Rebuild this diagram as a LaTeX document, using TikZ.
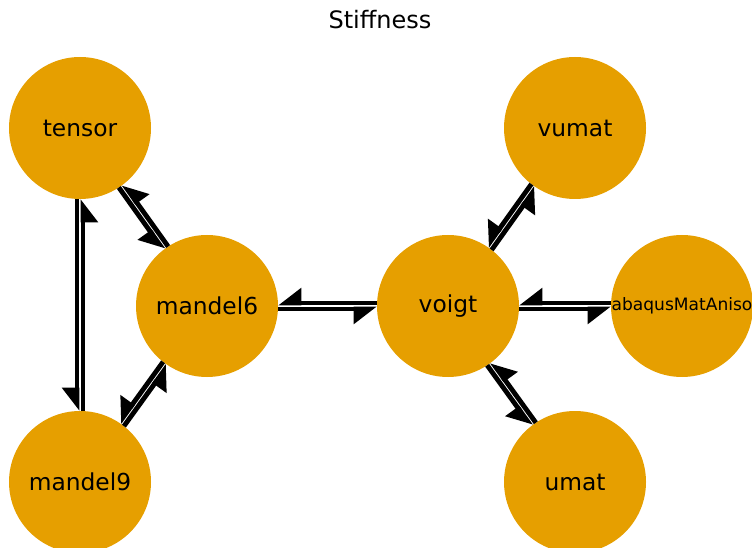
\documentclass[tikz,border=0pt]{standalone}
\usepackage{fontspec}
\setmainfont{DejaVu Sans}
\usetikzlibrary{arrows.meta, calc}

\definecolor{stiffcol}{HTML}{E69F00}

% two opposite harpoons between two nodes
\newcommand{\twoway}[2]{%
  \draw[link] ($(#1)!53.25pt!(#2)!2.2pt!-90:(#2)$) -- ($(#2)!53.25pt!(#1)!2.2pt!90:(#1)$);
  \draw[link] ($(#2)!53.25pt!(#1)!2.2pt!-90:(#1)$) -- ($(#1)!53.25pt!(#2)!2.2pt!90:(#2)$);
}

\begin{document}
\begin{tikzpicture}[x=0.75pt, y=-0.75pt]

\tikzset{
  unit/.style={circle, fill=stiffcol, minimum size=106.5pt, inner sep=0pt, font=\fontsize{17.5}{20}\selectfont},
  link/.style={line width=3.6pt, -{Triangle[harpoon, swap, length=15pt, width=22pt]}}
}

\useasboundingbox (0,0) rectangle (752,548);
\clip (0,0) rectangle (752,548);

% --- Titel ---
\node[font=\fontsize{18}{21}\selectfont] (title) at (380,20) {Stiffness};

% --- Knoten ---
\node[unit] (tensor) at (80,128) {tensor};
\node[unit] (mandel6) at (207,306) {mandel6};
\node[unit] (mandel9) at (80,482) {mandel9};
\node[unit] (voigt) at (448,306) {voigt};
\node[unit] (vumat) at (575,128) {vumat};
\node[unit, font=\fontsize{12.8}{15}\selectfont] (aniso) at (682,306) {abaqusMatAniso};
\node[unit] (umat) at (575,482) {umat};

% --- Kanten ---
\twoway{tensor}{mandel9}
\twoway{tensor}{mandel6}
\twoway{mandel6}{mandel9}
\twoway{mandel6}{voigt}
\twoway{voigt}{vumat}
\twoway{voigt}{aniso}
\twoway{voigt}{umat}

\end{tikzpicture}
\end{document}
